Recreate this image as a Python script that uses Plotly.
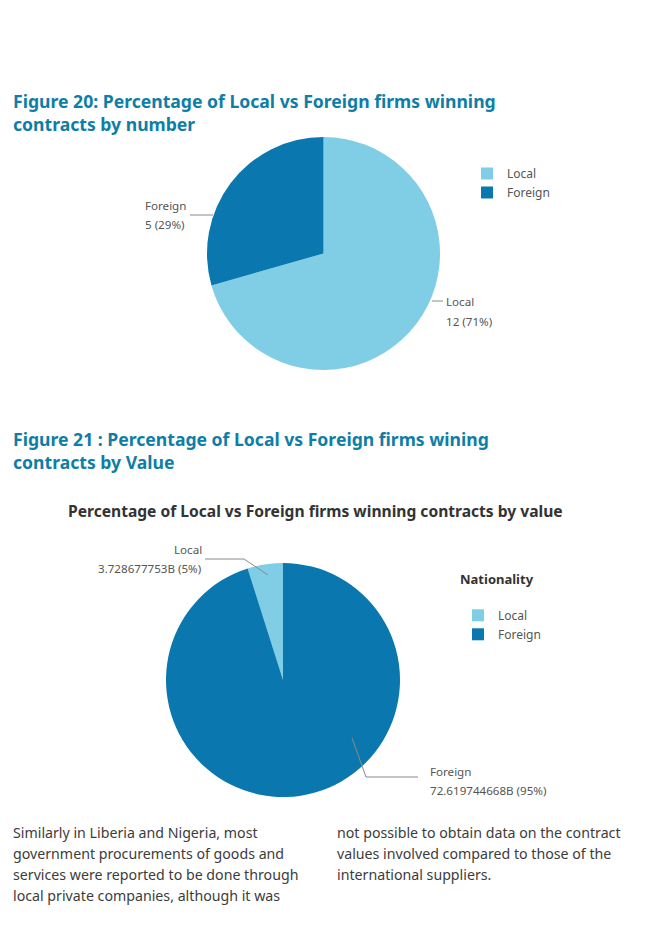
import plotly.graph_objects as go

# ---------------- data ----------------
labels_number = ["Local", "Foreign"]
count_values = [12, 5]
count_text = ["12 (71%)", "5 (29%)"]
labels_value = ["Local ", "Foreign "]   # same names; trailing space keeps the two pies' legends separate
value_values = [3.728677753, 72.619744668]
value_text = ["3.728677753B (5%)", "72.619744668B (95%)"]
legend_title_2 = "Nationality"

title_fig20 = "Figure 20: Percentage of Local vs Foreign firms winning<br>contracts by number"
title_fig21 = "Figure 21 : Percentage of Local vs Foreign firms wining<br>contracts by Value"
chart_title_21 = "Percentage of Local vs Foreign firms winning contracts by value"
body_left = ["Similarly in Liberia and Nigeria, most",
             "government procurements of goods and",
             "services were reported to be done through",
             "local private companies, although it was"]
body_right = ["not possible to obtain data on the contract",
              "values involved compared to those of the",
              "international suppliers."]

# ---------------- styling / layout ----------------
W, H = 671, 926
FONT = "Noto Sans"
LIGHT = "#7fcee5"
DARK = "#0a78ae"
TEAL = "#0e7ea6"
GREY = "#555555"


def px(x):
    return x / W


def py(y):
    return 1 - y / H


def domain(cx, cy, r):
    return dict(x=[px(cx - r), px(cx + r)], y=[py(cy + r), py(cy - r)])


P1 = (323.5, 253.5, 116.5)
P2 = (283, 680, 117)

# second pie: Local slice ends at 12 o'clock (drawn clockwise, so start it earlier)
rot2 = -360.0 * value_values[0] / sum(value_values)

fig = go.Figure()
fig.add_trace(go.Pie(
    labels=labels_number, values=count_values, sort=False, direction="clockwise",
    rotation=0, textinfo="none", marker=dict(colors=[LIGHT, DARK], line=dict(width=0)),
    domain=domain(*P1), legend="legend", showlegend=True,
))
fig.add_trace(go.Pie(
    labels=labels_value, values=value_values, sort=False, direction="clockwise",
    rotation=rot2, textinfo="none", marker=dict(colors=[LIGHT, DARK], line=dict(width=0)),
    domain=domain(*P2), legend="legend2", showlegend=True,
))

ann = []


def text(x, y, s, size, color, bold=False, xanchor="left", yanchor="middle", align="left"):
    if bold:
        s = "<b>" + s + "</b>"
    ann.append(dict(x=px(x), y=py(y), xref="paper", yref="paper", text=s, showarrow=False,
                    xanchor=xanchor, yanchor=yanchor, align=align,
                    font=dict(family=FONT, size=size, color=color)))


text(10.5, 112, title_fig20, 17.6, TEAL, bold=True)
text(10.5, 450, title_fig21, 17.6, TEAL, bold=True)
text(315.5, 511, chart_title_21, 15.6, "#333333", bold=True, xanchor="center")

# slice labels (two lines each, 20px apart)
LS = 11.6
text(143, 205, labels_number[1], LS, GREY)
text(143, 225, count_text[1], LS, GREY)
text(444, 301, labels_number[0], LS, GREY)
text(444, 321, count_text[0], LS, GREY)
text(204, 549, labels_value[0].strip(), LS, GREY, xanchor="right")
text(204, 568, value_text[0], LS, GREY, xanchor="right")
text(428, 771, labels_value[1].strip(), LS, GREY)
text(428, 790, value_text[1], LS, GREY)

for i, line in enumerate(body_left):
    text(11, 832 + 21 * i, line, 14.2, "#3c3c3c")
for i, line in enumerate(body_right):
    text(335, 832 + 21 * i, line, 14.2, "#3c3c3c")

# leader lines (pixel geometry)
leaders = [
    [(190, 215), (213, 215)],
    [(432, 301), (443, 301)],
    [(205, 559), (244, 559), (268, 575)],
    [(352, 738), (366, 777), (418, 777)],
]
shapes = []
for pts in leaders:
    path = "M " + " L ".join(f"{px(x)},{py(y)}" for x, y in pts)
    shapes.append(dict(type="path", xref="paper", yref="paper", path=path,
                       line=dict(color="#8a8a8a", width=1)))

fig.update_layout(
    width=W, height=H, margin=dict(l=0, r=0, t=0, b=0),
    paper_bgcolor="white", plot_bgcolor="white",
    font=dict(family=FONT, color=GREY),
    annotations=ann, shapes=shapes,
    legend=dict(x=px(467), y=py(159), xanchor="left", yanchor="top",
                font=dict(family=FONT, size=12, color=GREY), bgcolor="rgba(0,0,0,0)"),
    legend2=dict(x=px(458), y=py(567), xanchor="left", yanchor="top",
                 title=dict(text="<b>" + legend_title_2 + "</b><br>\u00a0",
                            font=dict(family=FONT, size=13, color="#333333")),
                 font=dict(family=FONT, size=12, color=GREY), bgcolor="rgba(0,0,0,0)"),
)

fig.write_html("out.html")
